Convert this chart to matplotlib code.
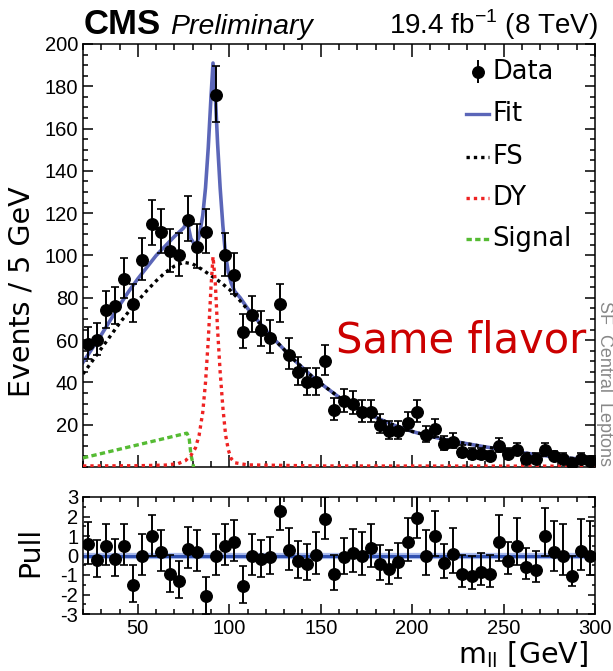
import numpy as np
import matplotlib.pyplot as plt
from matplotlib.ticker import MultipleLocator
from matplotlib.lines import Line2D

plt.rcParams['axes.unicode_minus'] = False

# --- binned dilepton mass spectrum (5 GeV bins, 20-300 GeV) ---
mll_min, mll_max, bin_w = 20, 300, 5
counts = [58, 60, 74, 76, 89, 77, 98, 115, 111, 102, 100, 117, 104, 111,
          176, 100, 91, 64, 72, 65, 61, 77, 53, 45, 40, 40, 50,
          27, 31, 30, 26, 26, 20, 17, 17, 21, 26, 15, 18, 11, 12,
          7, 6, 6, 5, 10, 6, 8, 4, 4, 8, 5, 4, 2, 4, 3]
pulls = [0.57, -0.23, 0.49, -0.16, 0.49, -1.5, 0.0, 1.0, 0.2, -0.95, -1.3, 0.35,
         0.2, -2.1, 0.0, 0.5, 0.7, -1.55, 0.0, -0.2, -0.07, 2.3, 0.28, -0.28,
         -0.42, 0.03, 1.87, -0.95, -0.1, 0.15, 0.0, 0.4, -0.45, -0.7, -0.35, 0.7,
         1.9, 0.0, 1.0, -0.4, 0.1, -0.95, -1.05, -0.85, -0.95, 0.7, -0.3, 0.5,
         -0.6, -0.75, 1.0, 0.2, 0.0, -1.05, 0.25, 0.0]

# --- fit components, sampled along m_ll ---
fs_x = [20, 25, 30, 35, 40, 45, 50, 55, 60, 65, 70, 75, 80, 85, 90, 95, 100,
        105, 110, 115, 120, 125, 130, 135, 140, 145, 150, 160, 170, 180, 190,
        200, 210, 220, 230, 240, 250, 260, 270, 280, 290, 300]
fs_y = [44, 50, 56, 62, 68, 73.5, 78.5, 83.5, 88, 92, 95, 96.8, 96, 93.5, 90.5,
        87.5, 84, 79.5, 74.5, 69.5, 64.5, 60, 55.5, 51, 47, 43, 39.5, 33, 28,
        23.5, 19.8, 16.8, 14.5, 12.6, 11, 9.5, 8.2, 6.8, 5.6, 4.6, 3.9, 3.3]

dy_x = [20, 50, 65, 72, 76, 79, 81.5, 83.5, 85.5, 87, 88.5, 90, 91.1, 92.3,
        93.6, 95, 96.5, 98, 99.5, 101, 103, 110, 150, 300]
dy_y = [0.5, 0.6, 0.9, 1.6, 3, 5.5, 9, 15, 26, 40, 60, 85, 99.4, 88,
        65, 45, 28, 15, 8, 4, 2, 1, 0.5, 0.4]

sig_x = [20, 76.8, 78, 79, 80.5]
sig_y = [4.3, 16, 14, 6, 0]

fit_x = [20, 25, 30, 35, 40, 45, 50, 55, 60, 65, 70, 75, 77, 79, 81.5, 83.5,
         85.5, 87, 88.5, 90, 91.1, 92.3, 93.6, 95, 96.5, 98, 99.5, 101, 103,
         106, 110, 115, 120, 125, 130, 135, 140, 145, 150, 160, 170, 180, 190,
         200, 210, 220, 230, 240, 250, 260, 270, 280, 290, 300]
fit_y = [49.5, 56, 62.5, 69.5, 76.5, 83, 89, 94.5, 100, 104.5, 109, 113, 116,
         108, 104.5, 109, 119, 132, 151, 175, 191, 177, 153, 132, 114, 100, 92,
         87, 83, 80, 75, 69.8, 64.6, 60, 55.5, 51, 47, 43, 39.5, 33, 28, 23.5,
         19.8, 16.8, 14.5, 12.6, 11, 9.5, 8.2, 6.8, 5.6, 4.6, 3.9, 3.3]

centers = np.arange(mll_min + bin_w / 2, mll_max, bin_w)
n = np.array(counts, dtype=float)
# approximate Poisson intervals
err_lo = np.sqrt(n + 0.25) - 0.5
err_hi = np.sqrt(n + 0.25) + 0.5
p = np.array(pulls)
p_lo = np.where(p >= 0, 1.0, err_lo / err_hi)
p_hi = np.where(p >= 0, err_hi / err_lo, 1.0)

fit_col = '#5b66b8'
W, H = 613, 671
fig = plt.figure(figsize=(W / 100, H / 100), dpi=100)
ax = fig.add_axes([83 / W, 1 - 467 / H, 512 / W, 423 / H])
axp = fig.add_axes([83 / W, 1 - 614 / H, 512 / W, 117 / H])

tick_font = {'family': 'Liberation Sans', 'size': 14.5}
label_font = {'family': 'DejaVu Sans', 'size': 20.5}

# --- main panel ---
ax.plot(fit_x, fit_y, color=fit_col, lw=2.6, zorder=2)
ax.plot(fs_x, fs_y, color='black', lw=2.4, ls=(0, (1, 1.2)), zorder=3)
ax.plot(sig_x, sig_y, color='#55bb33', lw=2.4, ls=(0, (1.6, 1)), zorder=3)
ax.plot(dy_x, dy_y, color='#ee2222', lw=2.4, ls=(0, (1, 1.2)), zorder=3)
ax.errorbar(centers, n, yerr=[err_lo, err_hi], fmt='o', color='black', ms=8.3,
            elinewidth=1.4, capsize=3, capthick=1.2, zorder=5)

ax.set_xlim(mll_min, mll_max)
ax.set_ylim(0, 200)
ax.set_yticks(np.arange(20, 201, 20))
ax.yaxis.set_minor_locator(MultipleLocator(5))
ax.xaxis.set_major_locator(MultipleLocator(50))
ax.xaxis.set_minor_locator(MultipleLocator(10))
ax.tick_params(which='both', direction='in', top=True, right=True, width=1.1,
               labelbottom=False)
ax.tick_params(axis='x', which='major', length=9)
ax.tick_params(axis='x', which='minor', length=4.5)
ax.tick_params(axis='y', which='major', length=7)
ax.tick_params(axis='y', which='minor', length=3.5)
for lab in ax.get_yticklabels():
    lab.set_fontfamily(tick_font['family'])
    lab.set_fontsize(tick_font['size'])
for s in ax.spines.values():
    s.set_linewidth(1.1)

# legend, drawn entry by entry
leg_rows = [0.934, 0.835, 0.733, 0.636, 0.539]
leg_labels = ['Data', 'Fit', 'FS', 'DY', 'Signal']
leg_styles = [None,
              dict(color=fit_col, ls='-'),
              dict(color='black', ls=(0, (1, 1.2))),
              dict(color='#ee2222', ls=(0, (1, 1.2))),
              dict(color='#55bb33', ls=(0, (1.6, 1)))]
for yy, lab, st in zip(leg_rows, leg_labels, leg_styles):
    if st is None:
        ax.errorbar([0.771], [yy], yerr=[[0.027], [0.027]], fmt='o', color='black',
                    ms=8.3, elinewidth=1.4, capsize=0, transform=ax.transAxes,
                    clip_on=False)
    else:
        ax.add_line(Line2D([0.748, 0.793], [yy, yy], lw=2.4, transform=ax.transAxes,
                           **st))
    ax.text(0.799, yy, lab, transform=ax.transAxes, va='center', ha='left',
            fontsize=18.5, family='DejaVu Sans')

ax.text(0.739, 0.300, 'Same flavor', transform=ax.transAxes, ha='center',
        va='center', fontsize=30, color='#cc0000', family='DejaVu Sans')

# --- pull panel ---
axp.axhline(0, color='#aabbee', lw=4.5, zorder=1)
axp.axhline(0, color='#3050b0', lw=2.2, zorder=2)
axp.errorbar(centers, p, yerr=[p_lo, p_hi], fmt='o', color='black', ms=8.3,
             elinewidth=1.4, capsize=3, capthick=1.2, zorder=5)
axp.set_xlim(mll_min, mll_max)
axp.set_ylim(-3, 3)
axp.set_yticks(np.arange(-3, 4, 1))
axp.yaxis.set_minor_locator(MultipleLocator(0.5))
axp.set_xticks(np.arange(50, 301, 50))
axp.xaxis.set_minor_locator(MultipleLocator(10))
axp.tick_params(which='both', direction='in', top=True, right=True, width=1.1)
axp.tick_params(axis='x', which='major', length=7)
axp.tick_params(axis='x', which='minor', length=3.5)
axp.tick_params(axis='y', which='major', length=5)
axp.tick_params(axis='y', which='minor', length=2.5)
for lab in axp.get_xticklabels() + axp.get_yticklabels():
    lab.set_fontfamily(tick_font['family'])
    lab.set_fontsize(tick_font['size'])
for s in axp.spines.values():
    s.set_linewidth(1.1)

# --- titles and axis captions ---
fig.text(22 / W, 1 - 292 / H, 'Events / 5 GeV', rotation=90, ha='center',
         va='center', **label_font)
fig.text(30 / W, 1 - 552 / H, 'Pull', rotation=90, ha='center', va='center',
         **label_font)
fig.text(588 / W, 1 - 655 / H, r'm$_{\mathregular{ll}}$ [GeV]', ha='right',
         va='center', **label_font)
fig.text(84 / W, 1 - 34 / H, 'CMS', ha='left', va='baseline', fontsize=25,
         fontweight='bold', family='Liberation Sans')
fig.text(170 / W, 1 - 34 / H, 'Preliminary', ha='left', va='baseline',
         fontsize=20.5, style='italic', family='Liberation Sans')
fig.text(598 / W, 1 - 34 / H, r'19.4 fb$^{\mathregular{-1}}$ (8 TeV)', ha='right',
         va='baseline', fontsize=20, family='Liberation Sans')
fig.text(605 / W, 1 - 466 / H, 'SF  Central  Leptons', rotation=270, ha='center',
         va='bottom', fontsize=13, color='#888888', family='Liberation Sans')

fig.savefig('out.png', dpi=100)
